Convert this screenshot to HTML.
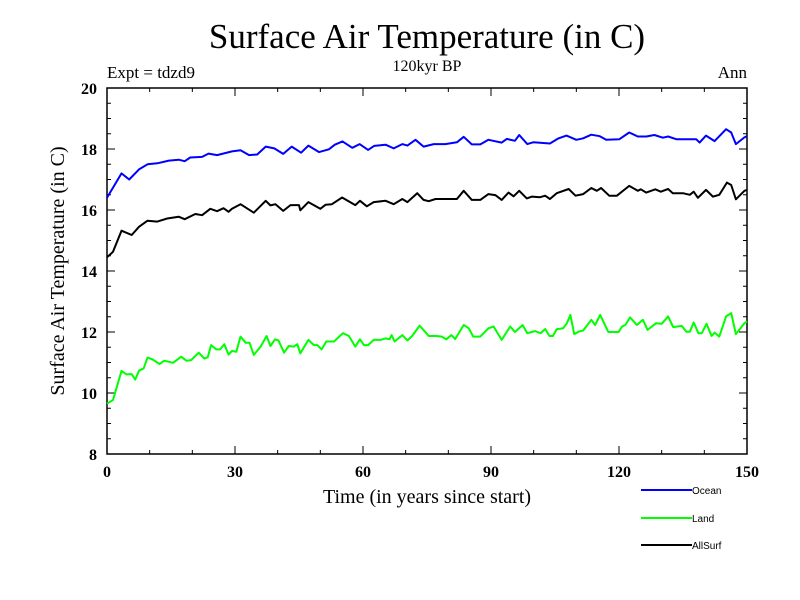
<!DOCTYPE html>
<html><head><meta charset="utf-8"><style>
html,body{margin:0;padding:0;background:#fff;}
svg{display:block;}
text{font-family:"Liberation Serif",serif;}
.leg{font-family:"Liberation Sans",sans-serif;font-size:10px;}
</style></head><body>
<svg id="chart" width="800" height="600" xmlns="http://www.w3.org/2000/svg">
<text x="427" y="48" font-size="35" text-anchor="middle">Surface Air Temperature (in C)</text>
<text x="107" y="78" font-size="17">Expt = tdzd9</text>
<text x="427" y="71" font-size="16" text-anchor="middle">120kyr BP</text>
<text x="747" y="78" font-size="17" text-anchor="end">Ann</text>
<text transform="translate(64,271) rotate(-90)" font-size="20" text-anchor="middle">Surface Air Temperature (in C)</text>
<text x="427" y="503" font-size="20" text-anchor="middle">Time (in years since start)</text>
<rect x="107" y="88" width="640" height="366" fill="none" stroke="#000" stroke-width="1.5"/>
<g id="axes"></g>
<g id="series"></g>
<g id="legend"></g>
</svg>
<script>
const xTicks=[0,30,60,90,120,150];
const yTicks=[8,10,12,14,16,18,20];
const seriesNames=["Ocean","Land","AllSurf"];
const seriesColors=["#0000ff","#00ff00","#000000"];
const oceanYears=[0,3.4,5.2,7.5,9.5,11.8,14.5,16.8,18.2,19.5,22.3,23.8,25.8,29.3,31.3,33.3,35.2,37.2,39.2,41.3,43.3,45.5,47.2,49.7,52,53.4,55.2,57.5,59.2,61.2,62.6,65.3,67.2,69.2,70.4,72.3,74.2,76.6,79.3,82,83.6,85.5,87.5,89.4,92.5,93.7,95.6,96.6,98.5,99.9,103.8,105.7,107.7,110,111.6,113.5,115.5,117,120.1,122.4,124.4,126.4,128.3,130.3,131.5,133.4,138.1,138.9,140.4,142.4,145.1,146.3,147.4,149.4,150];
const oceanValues=[16.4,17.2,17.0,17.33,17.5,17.53,17.62,17.65,17.6,17.72,17.74,17.85,17.8,17.92,17.96,17.8,17.82,18.08,18.02,17.84,18.08,17.88,18.11,17.9,17.99,18.14,18.25,18.04,18.16,17.97,18.1,18.14,18.02,18.16,18.11,18.3,18.08,18.16,18.16,18.22,18.4,18.15,18.15,18.3,18.21,18.33,18.27,18.46,18.16,18.22,18.18,18.34,18.44,18.3,18.35,18.47,18.42,18.3,18.32,18.54,18.41,18.41,18.46,18.37,18.41,18.32,18.32,18.21,18.44,18.26,18.65,18.54,18.16,18.38,18.42];
const allYears=[0,1.4,3.4,5.8,7.5,9.5,11.8,14.1,16.8,18.2,20.7,22.3,24.2,25.8,27.3,28.5,29.3,31.3,34.4,37.2,38.3,39.5,41.3,43,45,45.3,47.2,50,51.2,52.7,55.1,58.2,59.3,60.9,62.5,65.3,67.2,69.2,70.4,72.7,74.2,75.4,77,82,83.6,85.5,87.5,89.4,91,92.5,94.1,95.3,96.6,98.4,99.6,101.5,102.7,103.8,105.4,108.2,109.8,111.6,113.5,114.8,115.8,117.7,119.5,122.4,124.4,125.1,126.4,128.5,129.8,131.5,132.6,135,136.6,137.5,138.5,140.4,142,143.5,145.3,146.3,147.4,149.4,150];
const allValues=[14.45,14.63,15.32,15.18,15.45,15.65,15.62,15.72,15.78,15.7,15.87,15.83,16.04,15.96,16.06,15.94,16.04,16.19,15.91,16.3,16.15,16.19,15.97,16.16,16.16,15.99,16.26,16.04,16.17,16.19,16.41,16.16,16.3,16.12,16.26,16.3,16.19,16.36,16.26,16.55,16.33,16.29,16.36,16.36,16.63,16.33,16.33,16.52,16.49,16.33,16.57,16.45,16.63,16.38,16.44,16.42,16.47,16.36,16.55,16.69,16.47,16.52,16.72,16.63,16.72,16.47,16.47,16.79,16.63,16.68,16.57,16.68,16.6,16.69,16.55,16.55,16.5,16.6,16.4,16.66,16.44,16.5,16.9,16.82,16.35,16.63,16.66];
const landYears=[0,1.4,3.4,4.6,5.8,6.6,7.5,8.6,9.5,10.7,12.3,13.4,15.5,17.4,18.6,19.7,21.5,22.8,23.6,24.4,25.6,26.5,27.5,28.5,29.3,30.3,31.3,32.5,33.4,34.4,36,37.4,38.3,39.4,40.2,41.5,42.6,43.8,44.6,45.3,47.2,48.5,49.3,50.3,51.4,53.2,55.3,56.7,58.2,59.3,60.2,61.2,62.5,64.1,65.3,66.2,66.7,67.4,69.2,70.4,71.5,73.3,75.4,77.3,78.5,79.5,80.7,81.6,83.6,84.8,85.8,87.5,89.4,90.6,92.5,94.5,95.6,97.4,98.5,100.3,101.6,102.7,103.7,104.5,105.4,106.9,107.8,108.6,109.5,110.5,111.6,113.5,114.4,115.6,117.5,119.9,120.7,121.5,122.6,124.2,125.6,126.7,128.7,130,131.5,132.7,134.7,135.8,136.6,137.5,138.6,139.4,140.5,141.7,142.4,143.5,145.1,146.3,147.4,149.4,150];
const landValues=[9.65,9.77,10.72,10.61,10.62,10.44,10.73,10.81,11.16,11.1,10.95,11.06,10.99,11.19,11.06,11.08,11.32,11.13,11.17,11.57,11.43,11.43,11.6,11.26,11.38,11.35,11.85,11.65,11.65,11.25,11.52,11.87,11.54,11.76,11.72,11.32,11.54,11.52,11.6,11.3,11.74,11.57,11.57,11.43,11.69,11.69,11.96,11.87,11.52,11.76,11.57,11.57,11.74,11.74,11.79,11.76,11.9,11.69,11.9,11.72,11.87,12.21,11.87,11.87,11.85,11.76,11.9,11.77,12.23,12.12,11.85,11.85,12.12,12.18,11.74,12.18,12.0,12.23,11.96,12.03,11.96,12.1,11.87,11.87,12.09,12.12,12.29,12.56,11.93,12.01,12.05,12.4,12.23,12.56,12.0,12.0,12.18,12.23,12.48,12.23,12.4,12.07,12.29,12.27,12.51,12.16,12.2,12.01,12.01,12.31,11.96,11.96,12.27,11.87,11.98,11.85,12.51,12.62,11.93,12.29,12.35];

const X0=107,X1=747,Y0=454,Y1=88,XMIN=0,XMAX=150,YMIN=8,YMAX=20;
function xs(v){return X0+(v-XMIN)/(XMAX-XMIN)*(X1-X0);}
function ys(v){return Y0-(v-YMIN)/(YMAX-YMIN)*(Y0-Y1);}
const NS="http://www.w3.org/2000/svg";
function mk(tag,attrs,parent){const e=document.createElementNS(NS,tag);for(const k in attrs)e.setAttribute(k,attrs[k]);parent.appendChild(e);return e;}
const axes=document.getElementById('axes');
for(let v=YMIN;v<=YMAX+1e-9;v+=0.5){
  const major=Math.abs(v/2-Math.round(v/2))<1e-9;
  const L=major?8:4;const y=ys(v);
  const t1=mk('line',{x1:X0,x2:X0+L,y1:y,y2:y,stroke:'#000','stroke-width':1},axes);
  
  
  const t2=mk('line',{x1:X1-L,x2:X1,y1:y,y2:y,stroke:'#000','stroke-width':1},axes);
  
  
}
yTicks.forEach(v=>{
  const t=mk('text',{x:X0-10,y:ys(v)+6,'font-size':16,'text-anchor':'end','font-weight':'bold'},axes);
  t.textContent=v;
  
  
});
for(let v=XMIN;v<=XMAX+1e-9;v+=10){
  const major=v%30===0;const L=major?8:4;const x=xs(v);
  const t1=mk('line',{x1:x,x2:x,y1:Y0,y2:Y0-L,stroke:'#000','stroke-width':1},axes);
  
  
  const t2=mk('line',{x1:x,x2:x,y1:Y1,y2:Y1+L,stroke:'#000','stroke-width':1},axes);
  
  
}
xTicks.forEach(v=>{
  const t=mk('text',{x:xs(v),y:Y0+23,'font-size':16,'text-anchor':'middle','font-weight':'bold'},axes);
  t.textContent=v;
  
  
});
const ser=document.getElementById('series');
const seriesData=[[oceanYears,oceanValues],[landYears,landValues],[allYears,allValues]];
seriesData.forEach((d,i)=>{
  const pts=d[0].map((yr,j)=>xs(yr).toFixed(1)+','+ys(d[1][j]).toFixed(1)).join(' ');
  const p=mk('polyline',{points:pts,fill:'none',stroke:seriesColors[i],'stroke-width':2,'stroke-linejoin':'round'},ser);
  
  
});
const leg=document.getElementById('legend');
const legY=[490,518,545];
seriesNames.forEach((n,i)=>{
  const g=mk('g',{},leg);
  
  
  mk('line',{x1:641,x2:692,y1:legY[i],y2:legY[i],stroke:seriesColors[i],'stroke-width':2},g);
  const t=mk('text',{x:692,y:legY[i]+4,class:'leg'},g);
  t.textContent=n;
});
</script>
</body></html>
